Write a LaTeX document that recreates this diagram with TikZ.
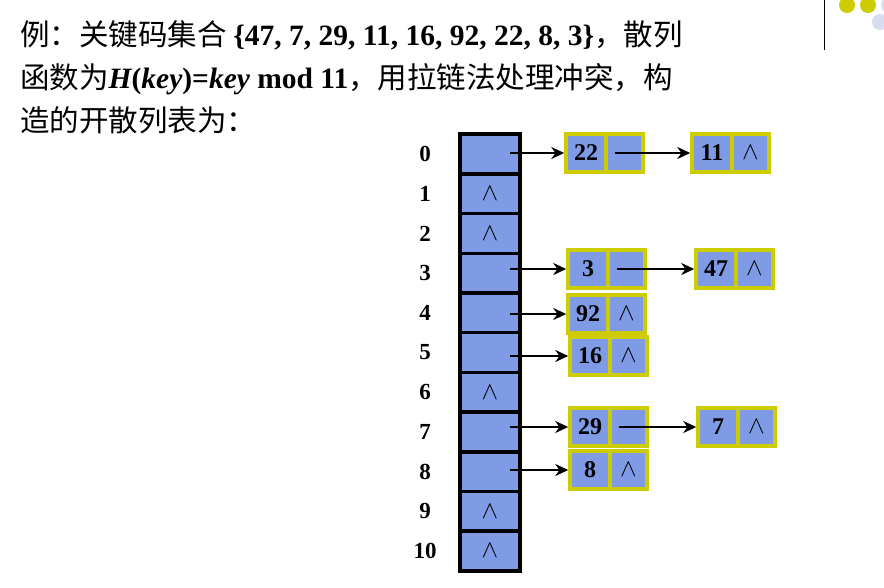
\documentclass[tikz,border=0pt]{standalone}
\usepackage{fontspec}
\setmainfont{Liberation Serif}
\newfontfamily\cjk{Noto Sans CJK SC}
\usetikzlibrary{positioning,arrows.meta}
\definecolor{cellblue}{HTML}{7F9BE6}
\definecolor{rim}{HTML}{CCCC00}
\definecolor{dotpale}{HTML}{D8DCF0}
\newcommand{\nil}{\fontsize{34}{34}\selectfont$\wedge$}
\tikzset{
  slot/.style={draw,line width=3.5pt,fill=cellblue,minimum width=60pt,minimum height=39.7pt,inner sep=0pt},
  key/.style={draw=rim,line width=3.5pt,fill=cellblue,minimum width=40pt,minimum height=38pt,inner sep=0pt,
    font=\bfseries\fontsize{24}{24}\selectfont},
  ptr/.style={key,minimum width=37pt},
  link/.style={-{Stealth[length=13pt,width=12pt]},line width=2.8pt},
  idx/.style={font=\bfseries\fontsize{23}{23}\selectfont},
  txt/.style={anchor=base west,inner sep=0pt,font=\cjk\fontsize{29.5}{29.5}\selectfont},
}
\begin{document}
\begin{tikzpicture}[x=1pt,y=-1pt]
\useasboundingbox (0,0) rectangle (884,587);
% decoration
\draw[line width=0.8pt] (824,0) -- (824,50);
\foreach \cx/\col in {847/rim,868/rim,889/dotpale}
  \fill[\col] (\cx,5) circle (8pt);
\fill[dotpale] (880,22) circle (8pt);
% text
\node[txt] (l1) at (20,45) {例：关键码集合 {\rmfamily\bfseries\{47, 7, 29, 11, 16, 92, 22, 8, 3\}}，散列};
\node[txt] (l2) at (20,88) {函数为{\rmfamily\bfseries\itshape H}{\rmfamily\bfseries(\itshape key\upshape)=\itshape key\upshape\ mod 11}，用拉链法处理冲突，构};
\node[txt] (l3) at (20,131) {造的开散列表为：};
% table
\foreach \i in {0,...,10}{
  \node[slot] (r\i) at (490,{154+39.7*\i}) {};
  \node[idx] (n\i) at (425,{154+39.7*\i}) {\i};
}
\foreach \i in {1,2,6,9,10} \node at (r\i) {\nil};
% chains
\node[key] (a0) at (586,153) {22};
\node[ptr,right=-3.5pt of a0] (b0) {};
\node[key] (c0) at (712,153) {11};
\node[ptr,right=-3.5pt of c0] (d0) {\nil};
\node[key] (a3) at (588,269) {3};
\node[ptr,right=-3.5pt of a3] (b3) {};
\node[key] (c3) at (716,269) {47};
\node[ptr,right=-3.5pt of c3] (d3) {\nil};
\node[key] (a4) at (588,314) {92};
\node[ptr,right=-3.5pt of a4] (b4) {\nil};
\node[key] (a5) at (590,356) {16};
\node[ptr,right=-3.5pt of a5] (b5) {\nil};
\node[key] (a7) at (590,427) {29};
\node[ptr,right=-3.5pt of a7] (b7) {};
\node[key] (c7) at (718,427) {7};
\node[ptr,right=-3.5pt of c7] (d7) {\nil};
\node[key] (a8) at (590,470) {8};
\node[ptr,right=-3.5pt of a8] (b8) {\nil};
% arrows
\foreach \i in {0,3,4,5,7,8}
  \draw[link] ([xshift=20pt]r\i.center |- a\i) -- (a\i.west);
\foreach \i in {0,3,7}
  \draw[link] ([xshift=-10pt]b\i.center) -- (c\i.west);
\end{tikzpicture}
\end{document}
